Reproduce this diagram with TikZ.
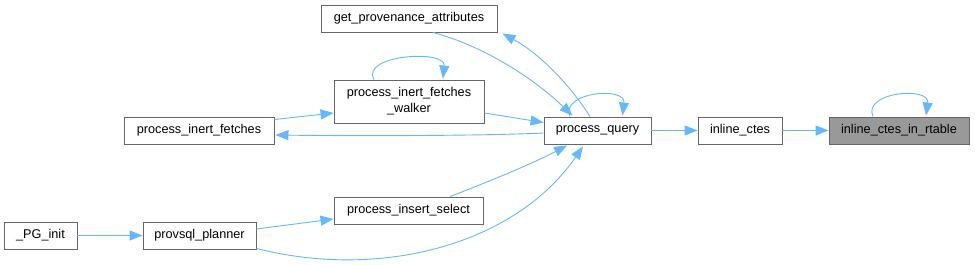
\documentclass[tikz,border=0pt]{standalone}
\usepackage{fontspec}
\setmainfont{Liberation Sans}
\usetikzlibrary{arrows.meta,calc}
\definecolor{edgeblue}{HTML}{63B8FF}
\definecolor{boxborder}{HTML}{666666}
\definecolor{focusfill}{HTML}{999999}
\tikzset{
  fn/.style={draw=boxborder, line width=0.9pt, fill=white, inner sep=0pt,
    minimum height=27pt, font=\fontsize{12.7pt}{16pt}\selectfont, align=center, text=black},
  focus/.style={fn, fill=focusfill},
  call/.style={draw=edgeblue, line width=0.9pt, -{Triangle[length=13pt,width=10pt]}},
}
\begin{document}
\begin{tikzpicture}[x=1pt,y=-1pt]
\useasboundingbox (0,0) rectangle (975,265);
\fill[white] (0,0) rectangle (975,265);

\node[fn, minimum width=176pt] (gpa) at (409,18.5) {get\_provenance\_attributes};
\node[fn, minimum width=150pt, minimum height=43pt] (pifw) at (409,101.5) {process\_inert\_fetches\\\_walker};
\node[fn, minimum width=150pt] (pif) at (199,130.5) {process\_inert\_fetches};
\node[fn, minimum width=107pt] (pq) at (597.5,130.5) {process\_query};
\node[fn, minimum width=84pt] (ic) at (740,130.5) {inline\_ctes};
\node[focus, minimum width=140pt] (icr) at (899,130.5) {inline\_ctes\_in\_rtable};
\node[fn, minimum width=149pt] (pis) at (408.5,210.5) {process\_insert\_select};
\node[fn, minimum width=113pt] (pl) at (199.5,235.5) {provsql\_planner};
\node[fn, minimum width=73pt] (pg) at (40.5,235.5) {\_PG\_init};

% straight chain
\draw[call] (ic.east) -- (icr.west);
\draw[call] (pq.east) -- (ic.west);
\draw[call] (pg.east) -- (pl.west);

% self loops
\draw[call] ($(icr.north)+(-26,0)$) .. controls (862,92) and (930,86) .. ($(icr.north)+(27,-1)$);
\draw[call] ($(pq.north)+(-27.5,0)$) .. controls (560,92) and (626,86) .. ($(pq.north)+(25,-1)$);
\draw[call] ($(pifw.north)+(-35,0)$) .. controls (360,55) and (446,49) .. ($(pifw.north)+(34,-1)$);

% around process_query
\draw[call] ($(gpa.south)+(24,0)$) .. controls (480,45) and (530,75) .. ($(pq.north)+(-25,-1)$);
\draw[call] ($(pq.north)+(-7.5,0)$) .. controls (572,88) and (542,55) .. ($(gpa.south east)+(5,1)$);
\draw[call] ($(pifw.east)+(0,11.5)$) -- ($(pq.west)+(0,-8)$);
\draw[call] ($(pq.west)+(0,2.5)$) .. controls (480,136) and (350,136) .. ($(pif.east)+(1,4.5)$);
\draw[call] ($(pif.east)+(0,-11)$) -- ($(pifw.west)+(0,11.5)$);
\draw[call] ($(pis.north)+(41.5,0)$) .. controls (480,185) and (530,165) .. ($(pq.south)+(-30.5,1)$);
\draw[call] ($(pl.south east)+(0,-1)$) .. controls (380,280) and (515,245) .. ($(pq.south)+(-14.5,2)$);
\draw[call] ($(pl.east)+(0,-6.5)$) -- ($(pis.west)+(0,8.5)$);
\end{tikzpicture}
\end{document}
